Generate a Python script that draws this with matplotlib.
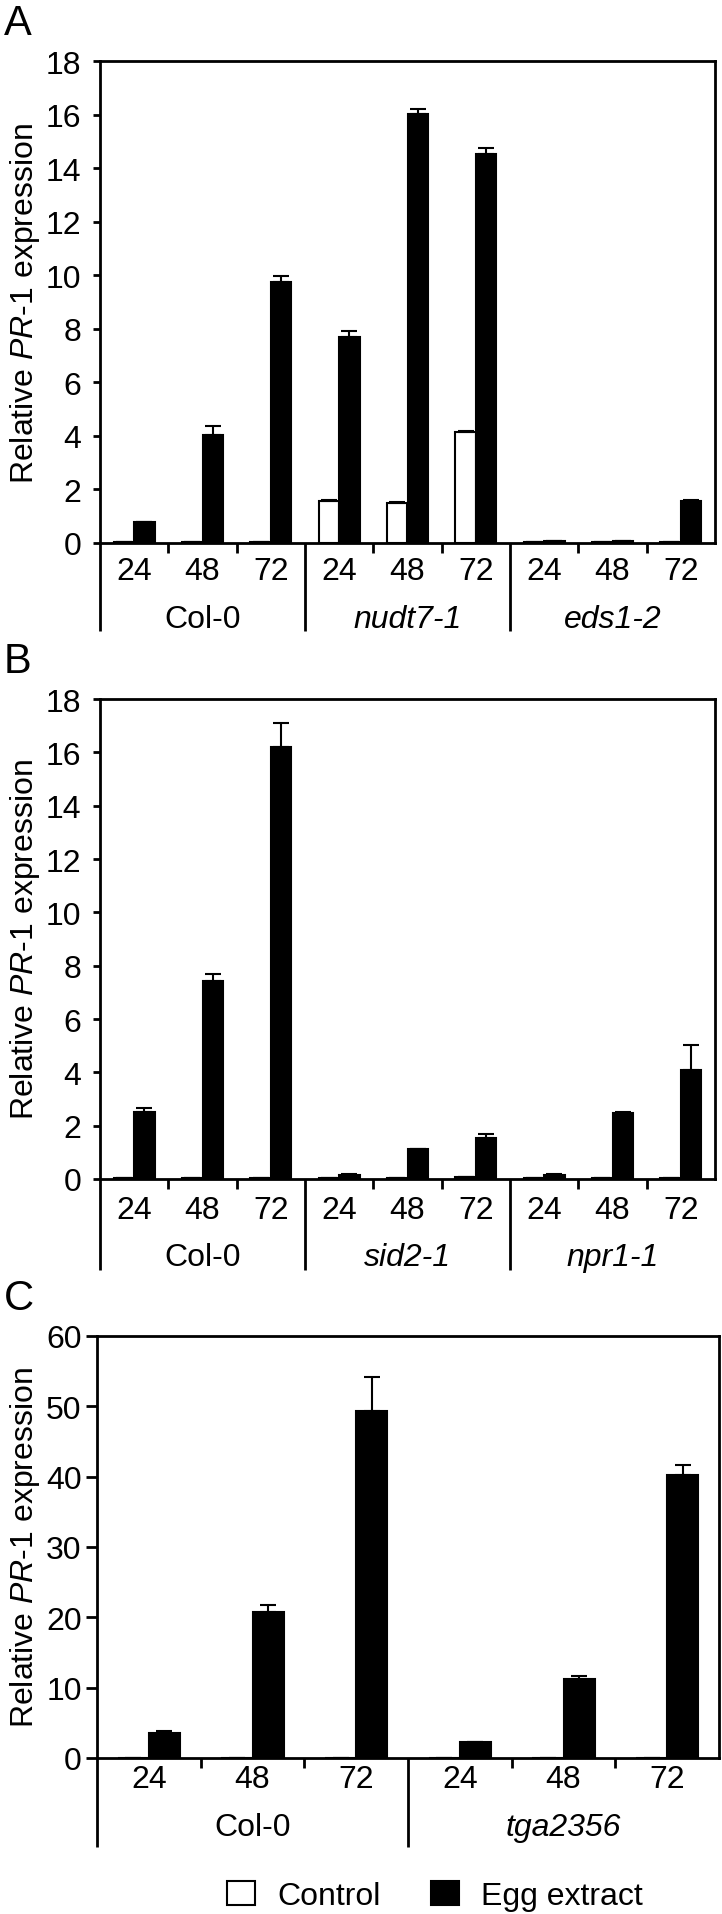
# Relative PR-1 expression after egg extract treatment
# Three stacked bar panels (A, B, C) with grouped x labels

import matplotlib.pyplot as plt
from matplotlib.patches import Patch

# Data
HOURS = ["24", "48", "72"]

A_GROUPS = ["Col-0", "nudt7-1", "eds1-2"]
A_CONTROL = [0.02, 0.02, 0.03, 1.55, 1.48, 4.15, 0.02, 0.05, 0.02]
A_CONTROL_ERR = [0.0, 0.0, 0.0, 0.05, 0.05, 0.05, 0.0, 0.0, 0.0]
A_EGG = [0.77, 4.02, 9.73, 7.68, 16.03, 14.53, 0.07, 0.06, 1.56]
A_EGG_ERR = [0.02, 0.35, 0.23, 0.23, 0.18, 0.23, 0.01, 0.01, 0.05]

B_GROUPS = ["Col-0", "sid2-1", "npr1-1"]
B_CONTROL = [0.02, 0.02, 0.02, 0.03, 0.03, 0.08, 0.02, 0.02, 0.03]
B_CONTROL_ERR = [0.0] * 9
B_EGG = [2.51, 7.43, 16.21, 0.16, 1.12, 1.55, 0.16, 2.46, 4.07]
B_EGG_ERR = [0.17, 0.24, 0.90, 0.02, 0.02, 0.13, 0.02, 0.06, 0.95]

C_GROUPS = ["Col-0", "tga2356"]
C_CONTROL = [0.05, 0.05, 0.05, 0.05, 0.05, 0.05]
C_CONTROL_ERR = [0.0] * 6
C_EGG = [3.5, 20.8, 49.3, 2.26, 11.2, 40.2]
C_EGG_ERR = [0.3, 1.0, 4.9, 0.05, 0.45, 1.45]

# Figure setup
W, H = 722, 1915
plt.rcParams["font.family"] = ["Liberation Sans", "DejaVu Sans"]
plt.rcParams["mathtext.fontset"] = "custom"
plt.rcParams["mathtext.it"] = "Liberation Sans:italic"
plt.rcParams["mathtext.rm"] = "Liberation Sans"
FS = 23
LW = 2.0

fig = plt.figure(figsize=(W / 100, H / 100), dpi=100)


def add_axes_px(left, top, right, bottom):
    return fig.add_axes([left / W, 1 - bottom / H, (right - left) / W, (bottom - top) / H])


def draw_panel(box, letter, groups, control, control_err, egg, egg_err,
               ymax, ystep, tick_len, tick_pad, hour_off, group_off, sep_len):
    left, top, right, bottom = box
    ax = add_axes_px(left, top, right, bottom)
    h_px = bottom - top
    n = len(egg)
    slots = list(range(n))
    width = 0.3

    # Bars
    ax.bar([s + 0.35 for s in slots], control, width=width, color="white",
           edgecolor="black", linewidth=1.5, zorder=2)
    ax.bar([s + 0.65 for s in slots], egg, width=width, color="black",
           edgecolor="black", linewidth=1.5, zorder=2)
    ax.errorbar([s + 0.35 for s in slots], control,
                yerr=[[0] * n, control_err], fmt="none", ecolor="black",
                elinewidth=1.5, capsize=6, capthick=1.5, zorder=3)
    ax.errorbar([s + 0.65 for s in slots], egg,
                yerr=[[0] * n, egg_err], fmt="none", ecolor="black",
                elinewidth=1.5, capsize=6, capthick=1.5, zorder=3)

    ax.set_xlim(0, n)
    ax.set_ylim(0, ymax)
    ax.set_yticks(range(0, ymax + 1, ystep))
    ax.tick_params(axis="y", direction="out", length=tick_len, width=LW,
                   pad=tick_pad, labelsize=FS)
    ax.set_xticks([])
    for sp in ax.spines.values():
        sp.set_linewidth(LW)

    # Ticks and group separators below the axis
    trans = ax.get_xaxis_transform()
    for s in range(n):
        length = sep_len if s % 3 == 0 else 10
        ax.plot([s, s], [0, -length / h_px], transform=trans, color="black",
                lw=LW, clip_on=False, solid_capstyle="butt")
        ax.text(s + 0.5, -hour_off / h_px, HOURS[s % 3], transform=trans,
                ha="center", va="center", fontsize=FS)
    for g, name in enumerate(groups):
        style = "normal" if name == "Col-0" else "italic"
        ax.text(3 * g + 1.5, -group_off / h_px, name, transform=trans,
                ha="center", va="center", fontsize=FS, style=style)

    # Y label and panel letter
    fig.text(8 / W, 1 - (top + bottom) / 2 / H,
             r"Relative $\mathit{PR}$-$\mathit{1}$ expression",
             rotation=90, ha="left", va="center", fontsize=FS)
    fig.text(4 / W, 1 - (top - 38) / H, letter, ha="left", va="center",
             fontsize=30)
    return ax


draw_panel((100, 62, 715, 544), "A", A_GROUPS, A_CONTROL, A_CONTROL_ERR,
           A_EGG, A_EGG_ERR, 18, 2, 5, 8.5, 28, 76, 88)
draw_panel((100, 700, 715, 1180), "B", B_GROUPS, B_CONTROL, B_CONTROL_ERR,
           B_EGG, B_EGG_ERR, 18, 2, 5, 8.5, 31, 78, 91)
draw_panel((97, 1337, 719, 1759), "C", C_GROUPS, C_CONTROL, C_CONTROL_ERR,
           C_EGG, C_EGG_ERR, 60, 10, 8, 3, 21, 69, 89)

# Legend
handles = [Patch(facecolor="white", edgecolor="black", linewidth=1.5, label="Control"),
           Patch(facecolor="black", edgecolor="black", linewidth=1.5, label="Egg extract")]
fig.legend(handles=handles, loc="center", bbox_to_anchor=(435 / W, 1 - 1897 / H),
           ncol=2, frameon=False, fontsize=FS, handlelength=0.85, handleheight=0.8,
           handletextpad=0.7, columnspacing=1.6)

plt.savefig("out.png", dpi=100)
